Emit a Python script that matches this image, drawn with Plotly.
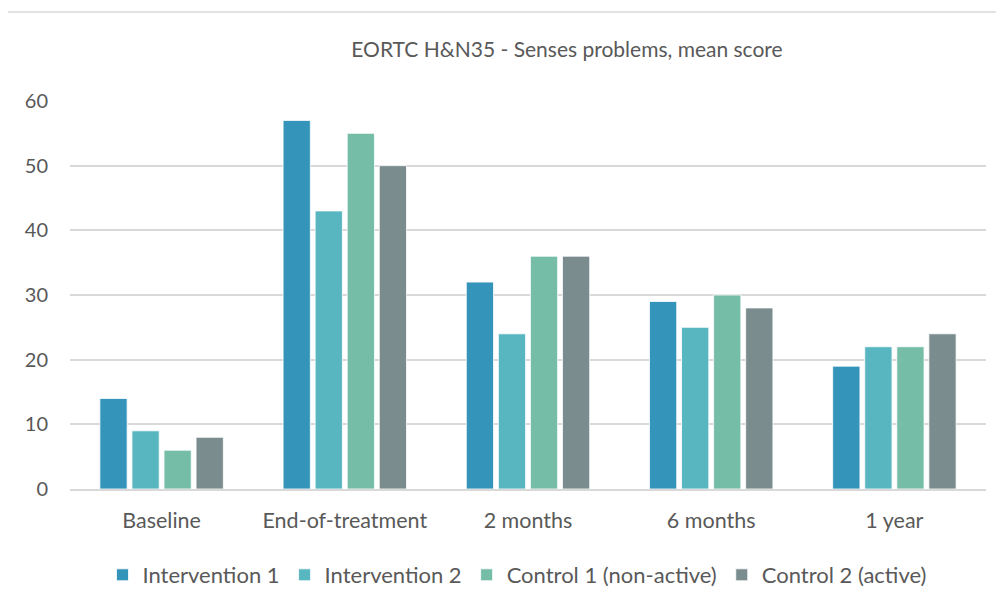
import plotly.graph_objects as go

categories = ["Baseline", "End-of-treatment", "2 months", "6 months", "1 year"]
intervention_1 = [14, 57, 32, 29, 19]
intervention_2 = [9, 43, 24, 25, 22]
control_1 = [6, 55, 36, 30, 22]
control_2 = [8, 50, 36, 28, 24]

series_names = ["Intervention 1", "Intervention 2", "Control 1 (non-active)", "Control 2 (active)"]
series_values = [intervention_1, intervention_2, control_1, control_2]
colors = ["#3494BA", "#58B6C0", "#75BDA7", "#7A8C8E"]

OFF = 8  # page body margin
W, H = 1004 - OFF, 605 - OFF
left_px, right_px, top_px, bottom_px = 70, 986, 101, 489  # target page coords
L = left_px - OFF
T = top_px - OFF
R = W - (right_px - OFF)
B = H - (bottom_px - OFF)
pw, ph = W - L - R, H - T - B

fig = go.Figure()
for name, vals, c in zip(series_names, series_values, colors):
    fig.add_trace(go.Bar(
        x=categories, y=vals, name=name,
        marker=dict(color=c, line=dict(color="rgba(255,255,255,0.8)", width=1)),
    ))

font_family = "Lato, 'Open Sans', sans-serif"
fig.update_layout(
    width=W, height=H,
    margin=dict(l=L, r=R, t=T, b=B, autoexpand=False),
    paper_bgcolor="white", plot_bgcolor="white",
    barmode="group", bargap=0.3, bargroupgap=0.15,
    title=dict(text="EORTC H&N35 - Senses problems, mean score",
               xref="paper", x=(567 - left_px) / pw, xanchor="center",
               y=1 - (50 - OFF) / H, yanchor="middle",
               font=dict(family=font_family, size=21, color="#595959")),
    font=dict(family=font_family, color="#595959"),
    xaxis=dict(showgrid=False, showline=True, linecolor="#D9D9D9", linewidth=1.5,
               ticks="", tickfont=dict(size=21.5, color="#595959"), ticklabelstandoff=11),
    yaxis=dict(range=[0, 60], dtick=10, showgrid=True, gridcolor="#D9D9D9", gridwidth=1.5,
               zeroline=False, showline=False, ticks="",
               tickfont=dict(size=20, color="#595959"), ticklabelstandoff=21),
    legend=dict(orientation="h", xref="paper", x=(517 - left_px) / pw, xanchor="center",
                y=-(575 - bottom_px) / ph, yanchor="middle",
                font=dict(size=22, color="#595959"), itemwidth=30, traceorder="normal"),
    shapes=[dict(type="rect", xref="paper", yref="paper",
                 x0=(6 - left_px) / pw, x1=(1030 - left_px) / pw,
                 y0=-(640 - bottom_px) / ph, y1=(bottom_px - 12) / ph,
                 line=dict(color="#D9D9D9", width=1.5), fillcolor="rgba(0,0,0,0)", layer="below")],
)

fig.write_html("out.html")
